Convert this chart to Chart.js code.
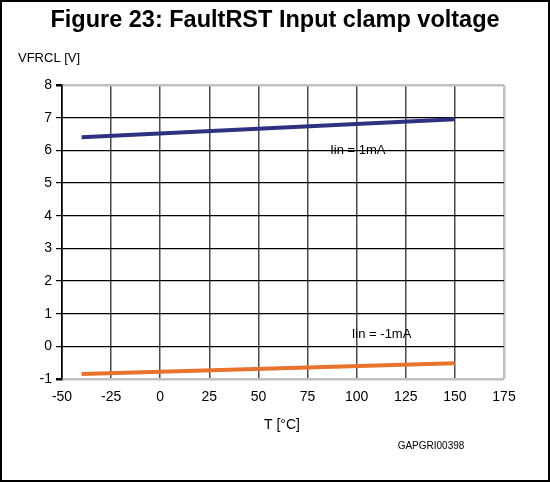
<!DOCTYPE html>
<html>
<head>
<meta charset="utf-8">
<script src="https://cdn.jsdelivr.net/npm/chart.js@4"></script>
<style>
  html, body { margin: 0; padding: 0; background: #fff; }
  #wrap { width: 550px; height: 482px; }
</style>
</head>
<body>
<div id="wrap"><canvas id="clampChart" width="550" height="482"></canvas></div>
<script>
// data
const tempPos = [-40, 150];
const vfrclPos = [6.4, 6.95];
const tempNeg = [-40, 150];
const vfrclNeg = [-0.85, -0.52];
const xTicks = [-50, -25, 0, 25, 50, 75, 100, 125, 150, 175];
const yTicks = [-1, 0, 1, 2, 3, 4, 5, 6, 7, 8];

const FONT = "'Liberation Sans', Arial, sans-serif";

function toPoints(xs, ys) {
    return xs.map(function (x, i) { return { x: x, y: ys[i] }; });
}

const textPlugin = {
    id: 'figureText',
    afterDraw: function (chart) {
        const ctx = chart.ctx;
        const xs = chart.scales.x;
        const ys = chart.scales.y;
        ctx.save();
        // outer frame
        ctx.strokeStyle = '#000';
        ctx.lineWidth = 2;
        ctx.strokeRect(1, 1, 548, 480);

        ctx.fillStyle = '#000';
        ctx.textBaseline = 'middle';
        ctx.textAlign = 'center';
        ctx.font = 'bold 23.5px ' + FONT;
        ctx.fillText('Figure 23: FaultRST Input clamp voltage', 275, 21);

        ctx.textAlign = 'left';
        ctx.font = '13px ' + FONT;
        ctx.fillText('VFRCL [V]', 18, 58);

        ctx.textAlign = 'center';
        ctx.font = '14px ' + FONT;
        ctx.fillText('T [°C]', 282, 425);

        ctx.font = '10px ' + FONT;
        ctx.fillText('GAPGRI00398', 431, 446);

        // curve labels
        ctx.textAlign = 'left';
        ctx.font = '13px ' + FONT;
        ctx.fillText('Iin = 1mA', xs.getPixelForValue(86.5), ys.getPixelForValue(6.0));
        ctx.fillText('Iin = -1mA', xs.getPixelForValue(97.5), ys.getPixelForValue(0.36));
        ctx.restore();
    }
};

new Chart(document.getElementById('clampChart'), {
    type: 'scatter',
    data: {
        datasets: [{
            label: 'Iin = 1mA',
            data: toPoints(tempPos, vfrclPos),
            showLine: true,
            borderColor: '#2e3180',
            borderWidth: 4,
            pointRadius: 0
        }, {
            label: 'Iin = -1mA',
            data: toPoints(tempNeg, vfrclNeg),
            showLine: true,
            borderColor: '#e8732c',
            borderWidth: 4,
            pointRadius: 0
        }]
    },
    options: {
        responsive: false,
        animation: false,
        layout: { padding: { left: 0, right: 46, top: 85, bottom: 0 } },
        plugins: {
            legend: { display: false },
            tooltip: { enabled: false }
        },
        scales: {
            x: {
                type: 'linear',
                min: -50,
                max: 175,
                afterBuildTicks: function (axis) {
                    axis.ticks = xTicks.map(function (v) { return { value: v }; });
                },
                afterFit: function (axis) { axis.height = 103; },
                ticks: {
                    color: '#000',
                    font: { family: FONT, size: 14 },
                    padding: 10,
                    maxRotation: 0
                },
                grid: {
                    drawTicks: false,
                    lineWidth: function (c) {
                        return (c.tick && c.tick.value === 175) ? 2.5 : 1.5;
                    },
                    color: function (c) {
                        if (c.tick && c.tick.value === 175) return '#c0c0c0';
                        if (c.tick && c.tick.value === -50) return '#000';
                        return '#4a4a4a';
                    }
                },
                border: { display: false }
            },
            y: {
                min: -1,
                max: 8,
                afterBuildTicks: function (axis) {
                    axis.ticks = yTicks.map(function (v) { return { value: v }; });
                },
                afterFit: function (axis) { axis.width = 62; },
                ticks: {
                    color: '#000',
                    font: { family: FONT, size: 14 },
                    padding: 4
                },
                grid: {
                    tickLength: 6,
                    lineWidth: function (c) {
                        return (c.tick && (c.tick.value === 8 || c.tick.value === -1)) ? 2.5 : 1.2;
                    },
                    color: function (c) {
                        if (c.tick && (c.tick.value === 8 || c.tick.value === -1)) return '#c0c0c0';
                        return '#000';
                    },
                    tickColor: '#000'
                },
                border: { display: true, color: '#000', width: 1.5 }
            }
        }
    },
    plugins: [textPlugin]
});
</script>
</body>
</html>
